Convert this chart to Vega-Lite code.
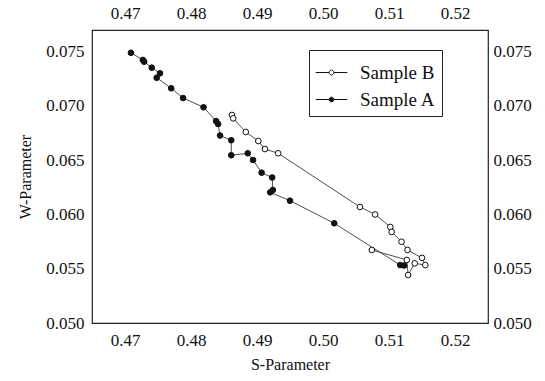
{
  "$schema": "https://vega.github.io/schema/vega-lite/v6.json",
  "width": 396,
  "height": 293,
  "autosize": {"type": "none"},
  "padding": {"left": 92, "top": 30, "right": 57, "bottom": 58},
  "background": "white",
  "config": {
    "view": {"stroke": "#222", "strokeWidth": 1.2},
    "font": "serif",
    "axis": {"grid": false, "ticks": false, "domain": false, "labelFont": "serif", "labelFontSize": 17, "labelColor": "#111", "titleFont": "serif", "titleFontSize": 16, "titleFontWeight": "normal", "titleColor": "#111"},
    "legend": {"labelFont": "serif"}
  },
  "data": {
    "values": [
      {"series": "Sample A", "o": 1, "S": 0.4709, "W": 0.0749},
      {"series": "Sample A", "o": 2, "S": 0.4727, "W": 0.07424},
      {"series": "Sample A", "o": 3, "S": 0.4729, "W": 0.07408},
      {"series": "Sample A", "o": 4, "S": 0.47405, "W": 0.07353},
      {"series": "Sample A", "o": 5, "S": 0.4753, "W": 0.07301},
      {"series": "Sample A", "o": 6, "S": 0.4748, "W": 0.0726},
      {"series": "Sample A", "o": 7, "S": 0.477, "W": 0.07163},
      {"series": "Sample A", "o": 8, "S": 0.4788, "W": 0.07073},
      {"series": "Sample A", "o": 9, "S": 0.4819, "W": 0.06988},
      {"series": "Sample A", "o": 10, "S": 0.4838, "W": 0.06861},
      {"series": "Sample A", "o": 11, "S": 0.4841, "W": 0.06834},
      {"series": "Sample A", "o": 12, "S": 0.4844, "W": 0.06728},
      {"series": "Sample A", "o": 13, "S": 0.4861, "W": 0.06684},
      {"series": "Sample A", "o": 14, "S": 0.4861, "W": 0.06546},
      {"series": "Sample A", "o": 15, "S": 0.4886, "W": 0.06564},
      {"series": "Sample A", "o": 16, "S": 0.4894, "W": 0.06502},
      {"series": "Sample A", "o": 17, "S": 0.4907, "W": 0.06385},
      {"series": "Sample A", "o": 18, "S": 0.4923, "W": 0.06341},
      {"series": "Sample A", "o": 19, "S": 0.4924, "W": 0.06226},
      {"series": "Sample A", "o": 20, "S": 0.492, "W": 0.06204},
      {"series": "Sample A", "o": 21, "S": 0.495, "W": 0.06127},
      {"series": "Sample A", "o": 22, "S": 0.5017, "W": 0.05919},
      {"series": "Sample A", "o": 23, "S": 0.5117, "W": 0.05534},
      {"series": "Sample A", "o": 24, "S": 0.5123, "W": 0.0553},
      {"series": "Sample B", "o": 1, "S": 0.4862, "W": 0.06917},
      {"series": "Sample B", "o": 2, "S": 0.4864, "W": 0.06886},
      {"series": "Sample B", "o": 3, "S": 0.4883, "W": 0.0676},
      {"series": "Sample B", "o": 4, "S": 0.4902, "W": 0.06677},
      {"series": "Sample B", "o": 5, "S": 0.4912, "W": 0.06603},
      {"series": "Sample B", "o": 6, "S": 0.4932, "W": 0.06564},
      {"series": "Sample B", "o": 7, "S": 0.5056, "W": 0.06069},
      {"series": "Sample B", "o": 8, "S": 0.5079, "W": 0.06},
      {"series": "Sample B", "o": 9, "S": 0.5102, "W": 0.05885},
      {"series": "Sample B", "o": 10, "S": 0.5104, "W": 0.05839},
      {"series": "Sample B", "o": 11, "S": 0.5119, "W": 0.05749},
      {"series": "Sample B", "o": 12, "S": 0.5128, "W": 0.05673},
      {"series": "Sample B", "o": 13, "S": 0.515, "W": 0.056},
      {"series": "Sample B", "o": 14, "S": 0.5155, "W": 0.05534},
      {"series": "Sample B", "o": 15, "S": 0.5139, "W": 0.0555},
      {"series": "Sample B", "o": 16, "S": 0.5129, "W": 0.05442},
      {"series": "Sample B", "o": 17, "S": 0.5127, "W": 0.05581},
      {"series": "Sample B", "o": 18, "S": 0.5074, "W": 0.05673}
    ]
  },
  "resolve": {"axis": {"x": "independent", "y": "independent"}},
  "layer": [
    {
      "mark": {"type": "line", "color": "#222", "strokeWidth": 0.8},
      "encoding": {
        "x": {"field": "S", "type": "quantitative", "scale": {"domain": [0.465, 0.525], "nice": false, "zero": false},
          "axis": {"orient": "bottom", "title": "S-Parameter", "values": [0.47, 0.48, 0.49, 0.5, 0.51, 0.52], "format": ".2f", "labelPadding": 9, "titlePadding": 8, "labelFont": "serif", "titleFont": "serif"}},
        "y": {"field": "W", "type": "quantitative", "scale": {"domain": [0.05, 0.077], "nice": false, "zero": false},
          "axis": {"orient": "left", "title": "W-Parameter", "values": [0.05, 0.055, 0.06, 0.065, 0.07, 0.075], "format": ".3f", "labelPadding": 8, "titlePadding": 12, "labelFont": "serif", "titleFont": "serif"}},
        "detail": {"field": "series"},
        "order": {"field": "o", "type": "quantitative"}
      }
    },
    {
      "mark": {"type": "point", "shape": "circle", "size": 32, "stroke": "#111", "strokeWidth": 1, "opacity": 1},
      "encoding": {
        "x": {"field": "S", "type": "quantitative", "scale": {"domain": [0.465, 0.525], "nice": false, "zero": false},
          "axis": {"orient": "top", "title": null, "values": [0.47, 0.48, 0.49, 0.5, 0.51, 0.52], "format": ".2f", "labelPadding": 8, "labelFont": "serif"}},
        "y": {"field": "W", "type": "quantitative", "scale": {"domain": [0.05, 0.077], "nice": false, "zero": false},
          "axis": {"orient": "right", "title": null, "values": [0.05, 0.055, 0.06, 0.065, 0.07, 0.075], "format": ".3f", "labelPadding": 5, "labelFont": "serif"}},
        "fill": {"field": "series", "type": "nominal",
          "scale": {"domain": ["Sample B", "Sample A"], "range": ["white", "#111"]},
          "legend": {"title": null, "orient": "none", "legendX": 217, "legendY": 20,
            "strokeColor": "#222", "fillColor": "white", "padding": 6,
            "symbolType": "M-1,0L-0.15,0M0.15,0L1,0M-0.15,0A0.15,0.15 0 1,0 0.15,0A0.15,0.15 0 1,0 -0.15,0",
            "symbolSize": 1000, "symbolStrokeColor": "#111", "symbolStrokeWidth": 1,
            "labelFont": "serif", "labelFontSize": 19, "labelColor": "#111", "rowPadding": 0, "labelOffset": 12}}
      }
    }
  ]
}
